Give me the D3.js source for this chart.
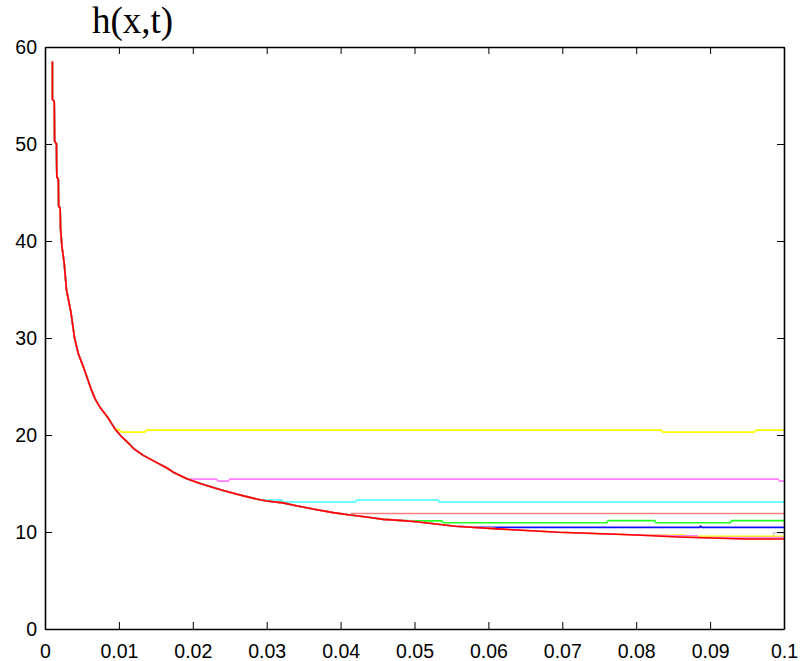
<!DOCTYPE html>
<html>
<head>
<meta charset="utf-8">
<script src="https://cdn.jsdelivr.net/npm/d3@7"></script>
<style>
  html, body { margin: 0; padding: 0; background: #fff; }
  svg { display: block; }
</style>
</head>
<body>
<svg id="chart" width="802" height="661"></svg>
<script>
// ---- data ----
const titleText = "h(x,t)";
const xTicks = [0, 0.01, 0.02, 0.03, 0.04, 0.05, 0.06, 0.07, 0.08, 0.09, 0.1];
const xTickLabels = ["0", "0.01", "0.02", "0.03", "0.04", "0.05", "0.06", "0.07", "0.08", "0.09", "0.1"];
const yTicks = [0, 10, 20, 30, 40, 50, 60];
const yTickLabels = ["0", "10", "20", "30", "40", "50", "60"];

// common decaying envelope (x, h)
const envX = [0.00100, 0.00100, 0.00125, 0.00130, 0.00155, 0.00160, 0.00180, 0.00185, 0.00205, 0.0021,
  0.0023, 0.0026, 0.0029, 0.0035, 0.0040, 0.0045, 0.0052, 0.0058, 0.0063, 0.0068, 0.0074, 0.0085,
  0.0090, 0.0095, 0.0104, 0.0115, 0.0120, 0.0133, 0.0150, 0.0165, 0.0175, 0.0192, 0.0210, 0.0223,
  0.0240, 0.0255, 0.0270, 0.0286, 0.0300, 0.0322, 0.0340, 0.0368, 0.0390, 0.0413, 0.0440, 0.0458,
  0.0480, 0.0503, 0.0555, 0.0618, 0.0695, 0.0792, 0.0857, 0.0947, 0.1];
const envH = [58.5, 54.6, 54.4, 50.3, 50.0, 46.6, 46.4, 43.6, 43.4, 41.3,
  39.4, 37.7, 35.0, 32.7, 30.0, 28.4, 27.0, 25.7, 24.6, 23.7, 22.9, 21.8,
  21.2, 20.6, 19.8, 19.0, 18.6, 17.9, 17.2, 16.6, 16.1, 15.5, 15.0, 14.7,
  14.3, 14.0, 13.7, 13.4, 13.2, 13.0, 12.7, 12.3, 12.0, 11.75, 11.5, 11.3,
  11.2, 11.06, 10.6, 10.3, 9.97, 9.72, 9.48, 9.28, 9.28];

// series: branch point from envelope, then own plateau points
const seriesNames = ["s1", "s2", "s3", "s4", "s5", "s6", "s7", "s8", "s9", "s10"];
const seriesColors = ["#ffff00", "#ff80ff", "#40ffff", "#ff8080", "#20ff20", "#1010ff", "#d0d0d0", "#ffff00", "#ff80ff", "#ff0000"];
const seriesBranch = [0.0099, 0.0192, 0.029, 0.0415, 0.0498, 0.0585, 0.0985, 0.0796, 0.0857, 0.2];
const seriesX = [
  [0.0099, 0.0104, 0.0135, 0.0137, 0.0834, 0.0836, 0.0960, 0.0962, 0.1],
  [0.0192, 0.0232, 0.0234, 0.0248, 0.0250, 0.0992, 0.0994, 0.1],
  [0.0290, 0.0320, 0.0322, 0.0420, 0.0422, 0.0532, 0.0534, 0.1],
  [0.0415, 0.1],
  [0.0498, 0.0537, 0.0539, 0.0760, 0.0762, 0.0825, 0.0827, 0.0927, 0.0929, 0.1],
  [0.0585, 0.0886, 0.0887, 0.0889, 0.1],
  [0.0985, 0.0986, 0.1],
  [0.0796, 0.0866, 0.0868, 0.1],
  [0.0857, 0.0882, 0.0884, 0.1],
  []
];
const seriesH = [
  [20.6, 20.3, 20.3, 20.5, 20.5, 20.3, 20.3, 20.5, 20.5],
  [15.45, 15.45, 15.25, 15.25, 15.45, 15.45, 15.25, 15.25],
  [13.3, 13.3, 13.1, 13.1, 13.3, 13.3, 13.1, 13.1],
  [11.9, 11.9],
  [11.15, 11.15, 10.96, 10.96, 11.17, 11.17, 10.96, 10.96, 11.17, 11.17],
  [10.48, 10.48, 10.62, 10.48, 10.48],
  [9.28, 9.93, 9.93],
  [9.69, 9.69, 9.56, 9.56],
  [9.62, 9.62, 9.43, 9.43],
  []
];

// ---- layout ----
const plotL = 45, plotR = 784, plotT = 47, plotB = 629;
const svg = d3.select("#chart");
const x = d3.scaleLinear().domain([0, 0.1]).range([plotL, plotR]);
const y = d3.scaleLinear().domain([0, 60]).range([plotB, plotT]);

svg.append("clipPath").attr("id", "plotclip")
  .append("rect").attr("x", plotL).attr("y", plotT).attr("width", plotR - plotL).attr("height", plotB - plotT);

const line = d3.line().x(d => x(d[0])).y(d => y(d[1]));
const g = svg.append("g").attr("clip-path", "url(#plotclip)");

seriesNames.forEach((name, i) => {
  const pts = [];
  envX.forEach((xv, k) => { if (xv < seriesBranch[i]) pts.push([xv, envH[k]]); });
  seriesX[i].forEach((xv, k) => pts.push([xv, seriesH[i][k]]));
  g.append("path")
    .attr("d", line(pts))
    .attr("fill", "none")
    .attr("stroke", seriesColors[i])
    .attr("stroke-width", 1.6)
    .attr("stroke-linejoin", "round");
});

// ---- axes (MATLAB-style box, inward ticks on all sides) ----
const tickLen = 7;
const font = "'Liberation Sans', Arial, sans-serif";
const axB = svg.append("g").attr("transform", `translate(0,${plotB})`)
  .call(d3.axisBottom(x).tickValues(xTicks).tickFormat((d, i) => xTickLabels[i]).tickSizeInner(-tickLen).tickSizeOuter(0).tickPadding(15));
const axT = svg.append("g").attr("transform", `translate(0,${plotT})`)
  .call(d3.axisTop(x).tickValues(xTicks).tickFormat("").tickSizeInner(-tickLen).tickSizeOuter(0));
const axL = svg.append("g").attr("transform", `translate(${plotL},0)`)
  .call(d3.axisLeft(y).tickValues(yTicks).tickFormat((d, i) => yTickLabels[i]).tickSizeInner(-tickLen).tickSizeOuter(0).tickPadding(8));
const axR = svg.append("g").attr("transform", `translate(${plotR},0)`)
  .call(d3.axisRight(y).tickValues(yTicks).tickFormat("").tickSizeInner(-tickLen).tickSizeOuter(0));

[axB, axT, axL, axR].forEach(a => {
  a.select(".domain").attr("stroke", "#000").attr("stroke-width", 1.6);
  a.selectAll(".tick line").attr("stroke", "#000").attr("stroke-width", 1);
  a.selectAll("text").attr("fill", "#000").style("font-family", font).style("font-size", "19.5px");
});
axB.selectAll("text").attr("dy", "0.71em");

svg.append("text")
  .attr("x", 92).attr("y", 33)
  .style("font-family", "'Liberation Serif', 'Times New Roman', serif")
  .style("font-size", "37px")
  .attr("fill", "#000")
  .text(titleText);
</script>
</body>
</html>
